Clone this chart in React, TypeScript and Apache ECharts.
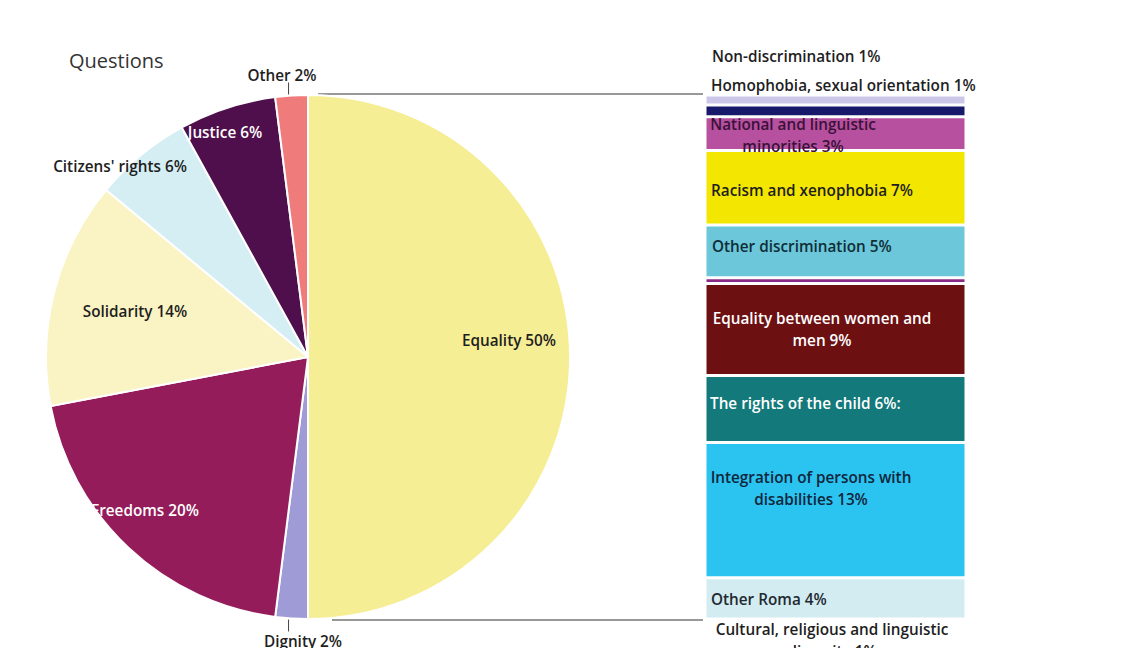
import React, { useEffect, useRef } from "react";
import * as echarts from "echarts";

// ---- Pie data (Questions) ----
const pieNames = ["Equality", "Dignity", "Freedoms", "Solidarity", "Citizens' rights", "Justice", "Other"];
const pieValues = [50, 2, 20, 14, 6, 6, 2];
const pieColors = ["#F6EE95", "#9E9BD6", "#951C5A", "#FAF4C4", "#D4EEF3", "#4F0F4C", "#F07B7B"];
const pieTextColors = ["#1E1E1E", "#1E1E1E", "#FFFFFF", "#1E1E1E", "#1E1E1E", "#FFFFFF", "#1E1E1E"];

// ---- Bar-of-pie breakdown of Equality ----
const barNames = [
  "Non-discrimination 1%",
  "Homophobia, sexual orientation 1%",
  "National and linguistic\nminorities 3%",
  "Racism and xenophobia 7%",
  "Other discrimination 5%",
  "",
  "Equality between women and\nmen 9%",
  "The rights of the child 6%:",
  "Integration of persons with\ndisabilities 13%",
  "Other Roma 4%",
  "Cultural, religious and linguistic\ndiversity 1%",
];
const barValues = [0.95, 1.1, 3.2, 7.05, 5.0, 0.55, 8.7, 6.35, 12.8, 3.9, 0.2];
const barColors = ["#CCC6E8", "#17196B", "#B6509F", "#F3E600", "#6BC7D9", "#8B2A86", "#6D1012", "#13797A", "#2BC3EF", "#D3ECF2", "#EEF7F9"];
const barTextColors = ["#1E1E1E", "#1E1E1E", "#3A1238", "#1E1E1E", "#0F2E38", "#1E1E1E", "#FFFFFF", "#FFFFFF", "#10263C", "#1E2A30", "#1E1E1E"];

// layout
const PIE_CX = 308;
const PIE_CY = 357;
const PIE_R = 262;
const BAR_LEFT = 705;
const BAR_WIDTH = 261;
const BAR_TOP = 95;
const BAR_HEIGHT = 526;
const FONT = "'Open Sans', Lato, sans-serif";
const FONT_SIZE = 15.3;

// label anchor placements (centres) for pie labels
const pieLabelPos: Record<string, [number, number]> = {
  Equality: [509, 340],
  Dignity: [303, 641],
  Freedoms: [145, 510],
  Solidarity: [135, 311],
  "Citizens' rights": [120, 166],
  Justice: [225, 132],
  Other: [282, 75],
};

// bar label placements relative to each segment's top-left, with alignment
const barLabelPlace: { pos: [number, number]; align: string }[] = [
  { pos: [7, -39], align: "left" },
  { pos: [6, -20], align: "left" },
  { pos: [88, 18], align: "center" },
  { pos: [6, 40], align: "left" },
  { pos: [7, 21], align: "left" },
  { pos: [7, 0], align: "left" },
  { pos: [117, 45], align: "center" },
  { pos: [5, 28], align: "left" },
  { pos: [106, 46], align: "center" },
  { pos: [6, 21], align: "left" },
  { pos: [127, 21], align: "center" },
];

export default function App() {
  const ref = useRef<HTMLDivElement>(null);
  useEffect(() => {
    document.body.style.margin = "0";
    if (!ref.current) return;
    const chart = echarts.init(ref.current, null, { renderer: "svg" });
    const total = barValues.reduce((a, b) => a + b, 0);
    const pieTotal = pieValues.reduce((a, b) => a + b, 0);

    // mid-angle leader ticks for the small outside-labelled slices
    const ticks: any[] = [];
    let cum = 0;
    pieValues.forEach((v, i) => {
      const mid = ((cum + v / 2) / pieTotal) * Math.PI * 2;
      cum += v;
      const n = pieNames[i];
      if (n === "Other" || n === "Dignity") {
        const sx = Math.sin(mid);
        const sy = -Math.cos(mid);
        const x = PIE_CX + PIE_R * sx - 3;
        const y0 = PIE_CY + PIE_R * sy + (sy < 0 ? -1 : 1);
        const y1 = y0 + (sy < 0 ? -12 : 12);
        ticks.push({
          type: "line",
          shape: { x1: x, y1: y0, x2: x, y2: y1 },
          style: { stroke: "#444", lineWidth: 1 },
          silent: true,
        });
      }
    });

    const pieData = pieNames.map((n, i) => ({
      name: n,
      value: pieValues[i],
      itemStyle: { color: pieColors[i] },
      label: { color: pieTextColors[i] },
    }));

    const barSeries = barNames.map((n, i) => ({
      type: "bar",
      name: "b" + i,
      stack: "eq",
      barWidth: "100%",
      data: [barValues[i]],
      itemStyle: { color: barColors[i], borderColor: "#FFFFFF", borderWidth: 1.5 },
      label: {
        show: n !== "",
        formatter: n,
        position: barLabelPlace[i].pos,
        align: barLabelPlace[i].align,
        verticalAlign: "middle",
        color: barTextColors[i],
        fontFamily: FONT,
        fontWeight: 600,
        fontSize: FONT_SIZE,
        lineHeight: 22,
      },
      emphasis: { disabled: true },
    }));

    chart.setOption({
      animation: false,
      backgroundColor: "#FFFFFF",
      title: {
        text: "Questions",
        left: 64,
        top: 45,
        textStyle: { fontFamily: FONT, fontWeight: "normal", fontSize: 20, color: "#333333" },
      },
      grid: { left: BAR_LEFT, top: BAR_TOP, width: BAR_WIDTH, height: BAR_HEIGHT },
      xAxis: { type: "category", data: ["Equality"], show: false },
      yAxis: { type: "value", inverse: true, min: 0, max: total, show: false },
      graphic: [
        {
          type: "line",
          shape: { x1: PIE_CX + 10, y1: PIE_CY - PIE_R - 1, x2: BAR_LEFT - 2, y2: PIE_CY - PIE_R - 1 },
          style: { stroke: "#333", lineWidth: 1 },
          silent: true,
        },
        {
          type: "line",
          shape: { x1: PIE_CX + 24, y1: PIE_CY + PIE_R + 1, x2: BAR_LEFT - 2, y2: PIE_CY + PIE_R + 1 },
          style: { stroke: "#333", lineWidth: 1 },
          silent: true,
        },
        ...ticks,
      ],
      series: [
        {
          type: "pie",
          center: [PIE_CX, PIE_CY],
          radius: [0, PIE_R],
          startAngle: 90,
          clockwise: true,
          data: pieData,
          itemStyle: { borderColor: "#FFFFFF", borderWidth: 2 },
          label: {
            show: true,
            position: "inside",
            formatter: (p: any) => `${p.name} ${p.value}%`,
            fontFamily: FONT,
            fontWeight: 600,
            fontSize: FONT_SIZE,
          },
          labelLine: { show: false },
          labelLayout: (p: any) => {
            const pos = pieLabelPos[pieNames[p.dataIndex]];
            return { x: pos[0], y: pos[1], align: "center", verticalAlign: "middle" };
          },
          emphasis: { disabled: true },
        },
        ...barSeries,
      ],
    });
    return () => chart.dispose();
  }, []);
  return <div ref={ref} style={{ width: 1147, height: 648 }} />;
}
